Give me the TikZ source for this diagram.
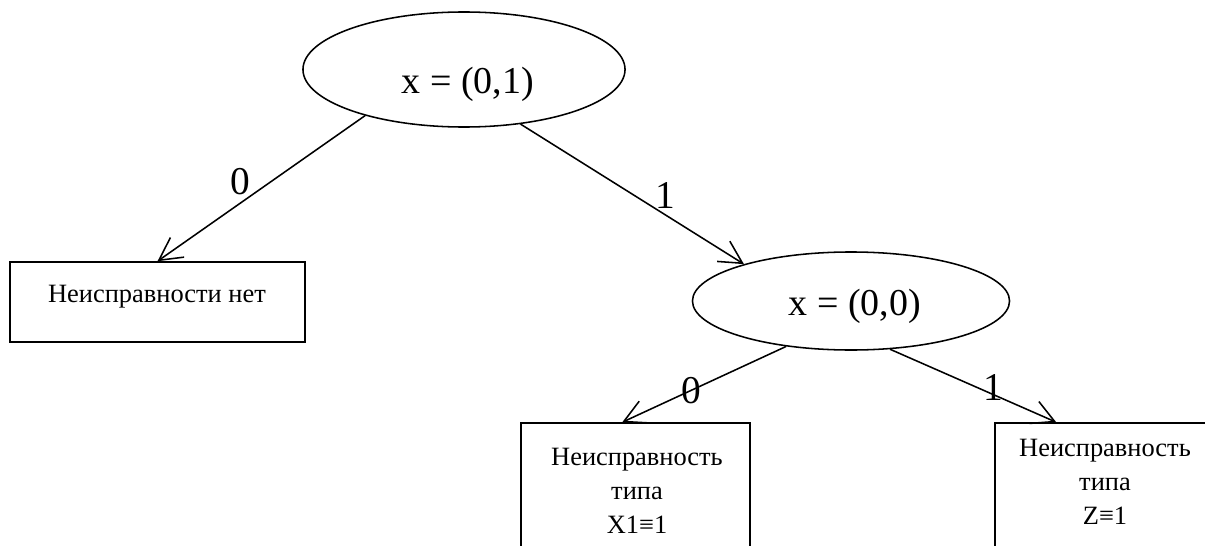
\documentclass[tikz,border=0pt]{standalone}
\usepackage{fontspec}
\setmainfont{Liberation Serif}
\usepackage{tikz}
\usetikzlibrary{shapes.geometric,arrows.meta}

\begin{document}
\begin{tikzpicture}[x=0.025cm,y=-0.025cm,
  query/.style={draw,ellipse,line width=1.1pt,inner sep=0pt},
  leaf/.style={draw,rectangle,line width=1.1pt,inner sep=0pt},
  branch/.style={line width=1.1pt,-{Straight Barb[length=16pt,width=17pt,line width=1.1pt]}},
  bit/.style={font=\fontsize{28}{30}\selectfont,inner sep=0pt},
  big/.style={font=\fontsize{27}{29}\selectfont,inner sep=0pt},
  note/.style={font=\fontsize{18.8}{24}\selectfont,align=center,inner sep=0pt}]
  \useasboundingbox (0,0) rectangle (1205,546);
  \clip (0,0) rectangle (1205,546);
  % tests on x
  \node[query,minimum width=8.05cm,minimum height=2.875cm] (e1) at (464,69.5) {};
  \node[big] (t1) at (468,84) {x = (0,1)};
  \node[query,minimum width=7.925cm,minimum height=2.45cm] (e2) at (851,301) {};
  \node[big] (t2) at (855,306) {x = (0,0)};
  % outcomes
  \node[leaf,minimum width=7.375cm,minimum height=2cm] (b1) at (157.5,302) {};
  \node[note] (t3) at (157,297) {Неисправности нет};
  \node[leaf,minimum width=5.725cm,minimum height=4.425cm] (b3) at (635.5,511.5) {};
  \node[note] (t4) at (637,491) {Неисправность\\типа\\X1≡1};
  \node[leaf,minimum width=5.625cm,minimum height=4.425cm] (b4) at (1107.5,511.5) {};
  \node[note] (t5) at (1105,482) {Неисправность\\типа\\Z≡1};
  % branches
  \draw[branch] (e1.205) -- (b1.north) node[bit,pos=0.6,shift={(0,-21)}] (l1) {0};
  \draw[branch] (e1.316) -- (e2.161) node[bit,pos=0.65,shift={(0,-20)}] (l2) {1};
  \draw[branch] (e2.215) -- ([xshift=-0.33cm]b3.north) node[bit,pos=0.58] (l3) {0};
  \draw[branch] (e2.309) -- ([xshift=1.55cm]b4.north west) node[bit,pos=0.62,shift={(0,-7)}] (l4) {1};
\end{tikzpicture}
\end{document}
